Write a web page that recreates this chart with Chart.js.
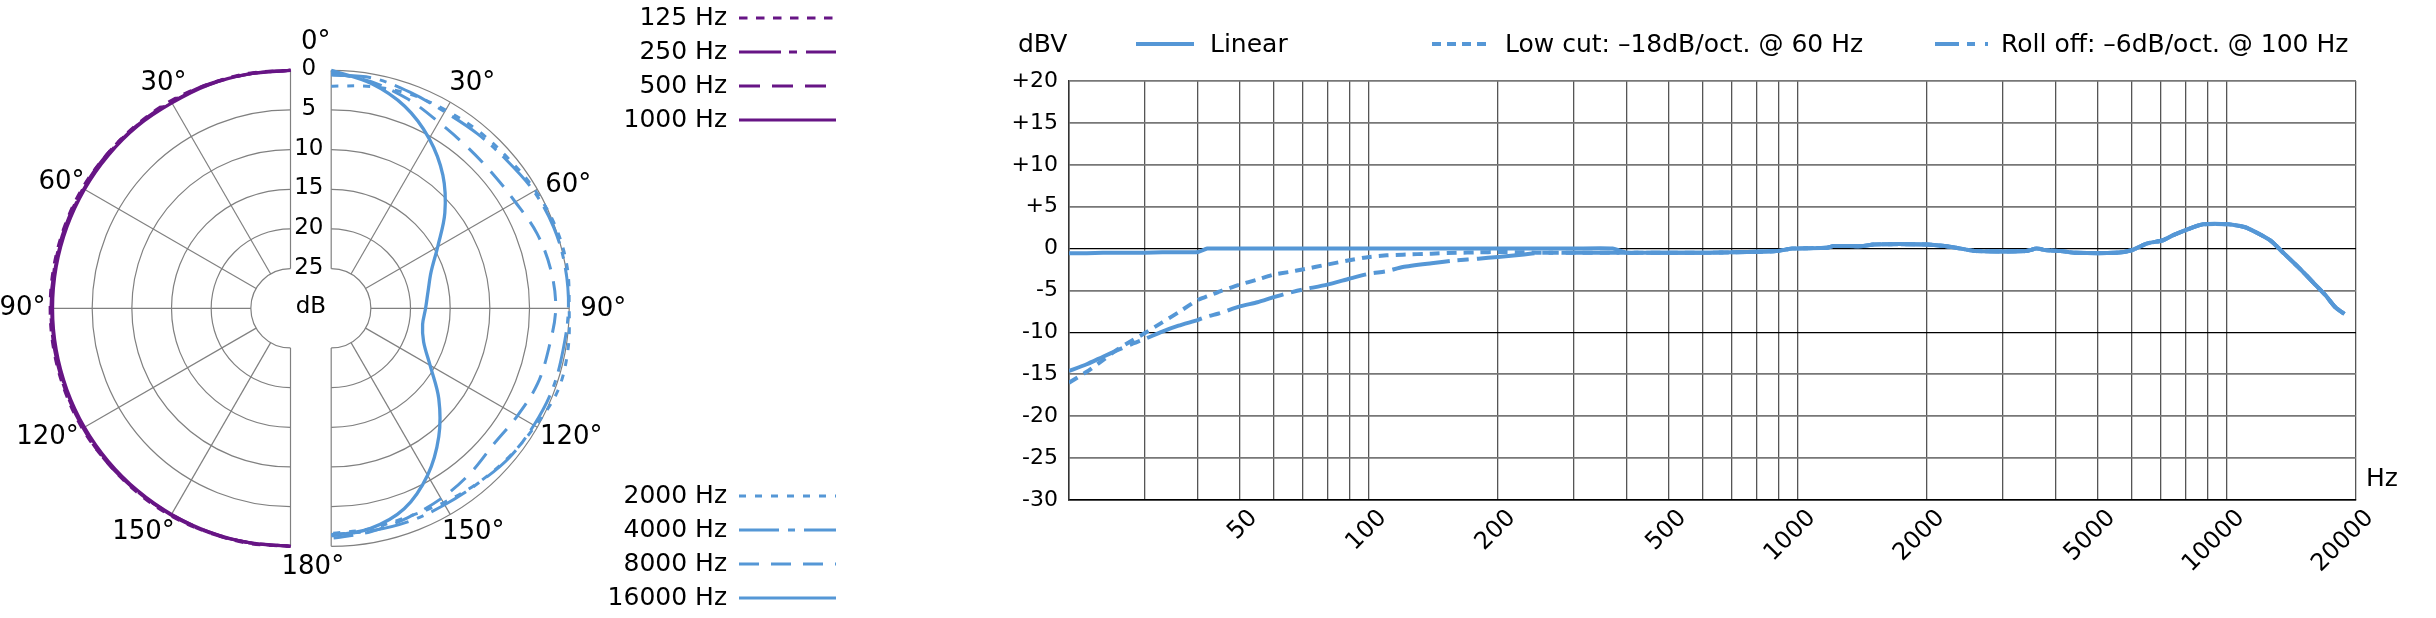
<!DOCTYPE html>
<html><head><meta charset="utf-8">
<script src="https://cdn.jsdelivr.net/npm/chart.js@4.4.1/dist/chart.umd.min.js"></script>
<style>
html,body{margin:0;padding:0;background:#fff;width:2436px;height:618px;overflow:hidden}
#polarWrap{position:absolute;left:0;top:0;width:900px;height:618px}
#freqWrap{position:absolute;left:940px;top:0;width:1496px;height:618px}
</style></head><body>
<div id="polarWrap"><canvas id="polar"></canvas></div>
<div id="freqWrap"><canvas id="freq"></canvas></div>
<script>
// ---------------- DATA ----------------
// Polar pattern: attenuation in dB at each angle (0..180 deg)
const ANGLES = [0,10,20,30,40,50,60,70,80,90,100,110,120,130,140,150,160,170,180];
const POLAR_125  = [0,-0.1,-0.1,-0.2,-0.2,-0.2,-0.3,-0.3,-0.3,-0.3,-0.3,-0.3,-0.3,-0.2,-0.2,-0.2,-0.1,-0.1,0];
const POLAR_250  = [0,0,-0.1,-0.1,-0.1,-0.2,-0.2,-0.2,-0.2,-0.2,-0.2,-0.2,-0.2,-0.2,-0.1,-0.1,-0.1,0,0];
const POLAR_500  = [0,0,0,0,-0.1,-0.1,-0.1,-0.1,-0.1,-0.1,-0.1,-0.1,-0.1,-0.1,-0.1,0,0,0,0];
const POLAR_1000 = [0,0,0,0.1,0,0,0,0,0,0,0,0,0,0,0,0,0,0,0];
const POLAR_2000 = [2.0,1.6,1.25,1.15,0.95,0.75,0.3,-0.1,-0.2,0,-0.3,-0.4,0.3,0.8,1.25,1.7,2.0,1.8,1.6];
const POLAR_4000 = [0.6,0.5,1.0,1.4,1.3,1.05,0.5,0.15,0.05,0.1,0.3,0.3,0.5,0.7,1.2,1.4,1.4,1.5,1.5];
const POLAR_8000 = [0.3,1.0,1.9,2.9,3.4,3.5,3.2,2.4,1.9,1.7,2.1,2.3,2.9,3.3,2.8,2.3,1.9,1.4,1.0];
const POLAR_16000 = [0.0,1.2,2.9,5.3,8.1,11.3,14.5,16.6,17.6,18.1,18.3,17.6,15.6,12.3,8.9,5.7,3.1,1.8,1.3];
const POLAR_RINGS = [0,5,10,15,20,25];
const POLAR_SPOKES = [0,30,60,90,120,150,180];
const POLAR_ANGLE_LABELS = [30,60,90,120,150];

// Frequency response
const FREQ = [20,22,24,26,28,30,33,36,40,42,45,50,55,60,65,70,80,90,100,110,120,140,160,180,200,230,250,300,370,400,430,560,700,890,970,1170,1210,1420,1500,2000,2200,2400,2600,3400,3600,3800,4100,4450,5500,6000,6500,7100,7500,8100,8800,10100,11100,12600,13600,14800,16000,17000,17900,18800];
const LINEAR = [-0.55,-0.55,-0.5,-0.5,-0.5,-0.5,-0.45,-0.45,-0.4,0,0,0,0,0,0,0,0,0,0,0,0,0,0,0,0,0,0,0,0,-0.5,-0.5,
  -0.5,-0.45,-0.3,0,0.1,0.3,0.3,0.5,0.5,0.3,0,-0.3,-0.3,0,-0.2,-0.3,-0.5,-0.5,-0.2,0.6,1.0,1.6,2.3,2.9,2.9,2.5,1.0,-0.6,-2.4,-4.2,-5.6,-7.0,-7.8];
const LOW_CUT = [-16.0,-14.7,-13.3,-12.0,-11.0,-10.1,-8.8,-7.6,-6.1,-5.7,-5.1,-4.3,-3.7,-3.1,-2.8,-2.5,-1.9,-1.4,-1.0,-0.8,-0.72,-0.6,-0.5,-0.45,-0.4,-0.45,-0.5,-0.5,-0.5,-0.5,-0.5,
  -0.5,-0.45,-0.3,0,0.1,0.3,0.3,0.5,0.5,0.3,0,-0.3,-0.3,0,-0.2,-0.3,-0.5,-0.5,-0.2,0.6,1.0,1.6,2.3,2.9,2.9,2.5,1.0,-0.6,-2.4,-4.2,-5.6,-7.0,-7.8];
const ROLL_OFF = [-14.6,-13.8,-12.9,-12.1,-11.4,-10.8,-9.9,-9.2,-8.5,-8.1,-7.7,-6.9,-6.4,-5.8,-5.3,-4.9,-4.3,-3.6,-3.0,-2.7,-2.2,-1.75,-1.4,-1.2,-1.0,-0.7,-0.5,-0.5,-0.5,-0.5,-0.5,
  -0.5,-0.45,-0.3,0,0.1,0.3,0.3,0.5,0.5,0.3,0,-0.3,-0.3,0,-0.2,-0.3,-0.5,-0.5,-0.2,0.6,1.0,1.6,2.3,2.9,2.9,2.5,1.0,-0.6,-2.4,-4.2,-5.6,-7.0,-7.8];
const X_GRID = [20,30,40,50,60,70,80,90,100,200,300,400,500,600,700,800,900,1000,2000,3000,4000,5000,6000,7000,8000,9000,10000,20000];
const X_LABELS = [50,100,200,500,1000,2000,5000,10000,20000];

// ---------------- STYLE ----------------
const PURPLE = '#671585';
const BLUE = '#5597d6';
const FONT = '"DejaVu Sans", "Liberation Sans", sans-serif';
Chart.defaults.color = '#000';
Chart.defaults.font.family = FONT;

// ---------------- POLAR ----------------
const PW = 900, PH = 618;
const UNIT = 7.933;          // px per dB of radius
const HALF_GAP = 2.565;      // half distance between the two half-plots, in dB units
const PCX = 310.85, PCY = 308.3;
// angle-label centre offsets (px) from each half's centre
const ANGLE_LABEL_POS_R = {30: [141, -226], 60: [237, -124], 90: [272, 0], 120: [240, 128], 150: [142, 223]};
const ANGLE_LABEL_POS_L = {30: [-127, -226], 60: [-229, -127], 90: [-268, -1], 120: [-243, 128], 150: [-147, 223]};

function polarPoints(vals, side) {
  return ANGLES.map((a, i) => {
    const r = 30 - vals[i], t = a * Math.PI / 180;
    return { x: side * (HALF_GAP + r * Math.sin(t)), y: r * Math.cos(t) };
  });
}
function pds(label, vals, side, color, dash, width) {
  return { label, data: polarPoints(vals, side), showLine: true, borderColor: color, backgroundColor: color,
    borderWidth: width || 3, borderDash: dash, pointRadius: 0, tension: 0.35, fill: false };
}
const polarSets = [
  pds('125 Hz', POLAR_125, -1, PURPLE, [8.5, 8.5]),
  pds('250 Hz', POLAR_250, -1, PURPLE, [42, 8, 8, 9]),
  pds('500 Hz', POLAR_500, -1, PURPLE, [21, 12]),
  pds('1000 Hz', POLAR_1000, -1, PURPLE, [], 3.3),
  pds('2000 Hz', POLAR_2000, 1, BLUE, [7, 9]),
  pds('4000 Hz', POLAR_4000, 1, BLUE, [40, 9, 7, 9]),
  pds('8000 Hz', POLAR_8000, 1, BLUE, [20, 12]),
  pds('16000 Hz', POLAR_16000, 1, BLUE, [], 3.3),
];

const polarPlugin = {
  id: 'polarPlugin',
  beforeDatasetsDraw(chart) {
    const { ctx, scales: { x, y } } = chart;
    const k = x.getPixelForValue(1) - x.getPixelForValue(0);
    ctx.save();
    ctx.strokeStyle = '#808080'; ctx.lineWidth = 1.2;
    [-1, 1].forEach(side => {
      const cx = x.getPixelForValue(side * HALF_GAP), cy = y.getPixelForValue(0);
      POLAR_RINGS.forEach(att => {
        const r = (30 - att) * k;
        ctx.beginPath();
        if (side > 0) ctx.arc(cx, cy, r, -Math.PI / 2, Math.PI / 2, false);
        else ctx.arc(cx, cy, r, Math.PI / 2, Math.PI * 1.5, false);
        ctx.stroke();
      });
      POLAR_SPOKES.forEach(a => {
        const t = a * Math.PI / 180;
        const p = r => [x.getPixelForValue(side * (HALF_GAP + r * Math.sin(t))), y.getPixelForValue(r * Math.cos(t))];
        const a0 = p(5), a1 = p(30);
        ctx.beginPath(); ctx.moveTo(a0[0], a0[1]); ctx.lineTo(a1[0], a1[1]); ctx.stroke();
      });
    });
    ctx.restore();
  },
  afterDatasetsDraw(chart) {
    const { ctx, scales: { x, y } } = chart;
    const k = x.getPixelForValue(1) - x.getPixelForValue(0);
    const mx = x.getPixelForValue(0), cy = y.getPixelForValue(0);
    ctx.save();
    ctx.fillStyle = '#000';
    ctx.textAlign = 'center'; ctx.textBaseline = 'middle';
    // angle labels
    ctx.font = '26px ' + FONT;
    [-1, 1].forEach(side => {
      const cx = x.getPixelForValue(side * HALF_GAP);
      const table = side > 0 ? ANGLE_LABEL_POS_R : ANGLE_LABEL_POS_L;
      POLAR_ANGLE_LABELS.forEach(a => {
        const o = table[a];
        ctx.fillText(a + '°', cx + o[0], cy + o[1] + 1);
      });
    });
    ctx.fillText('0°', mx + 5, cy - 266);
    ctx.fillText('180°', mx + 2, cy + 259);
    // ring labels
    ctx.font = '23px ' + FONT;
    POLAR_RINGS.forEach(att => {
      ctx.fillText(String(att), mx - 2, cy - (30 - att) * k - 1);
    });
    ctx.fillText('dB', mx, cy - 1);
    // legend
    ctx.font = '25px ' + FONT;
    ctx.textAlign = 'right';
    chart.data.datasets.forEach((ds, i) => {
      const yy = i < 4 ? 18 + i * 34 : 496 + (i - 4) * 34;
      ctx.fillStyle = '#000';
      ctx.fillText(ds.label, 727, yy);
      ctx.strokeStyle = ds.borderColor; ctx.lineWidth = 3;
      ctx.setLineDash(ds.borderDash || []);
      ctx.beginPath(); ctx.moveTo(739, yy); ctx.lineTo(836, yy); ctx.stroke();
      ctx.setLineDash([]);
    });
    ctx.restore();
  }
};

new Chart(document.getElementById('polar'), {
  type: 'scatter',
  data: { datasets: polarSets },
  options: {
    responsive: true, maintainAspectRatio: false, animation: false, devicePixelRatio: 1,
    layout: { padding: 0 },
    plugins: { legend: { display: false }, tooltip: { enabled: false } },
    scales: {
      x: { type: 'linear', display: false, min: -PCX / UNIT, max: (PW - PCX) / UNIT },
      y: { type: 'linear', display: false, min: -(PH - PCY) / UNIT, max: PCY / UNIT }
    }
  },
  plugins: [polarPlugin]
});

// ---------------- FREQUENCY RESPONSE ----------------
const OFF = 940; // canvas left in page px
function fds(label, vals, dash, legendDash) {
  return { label, data: FREQ.map((f, i) => ({ x: f, y: vals[i] })), borderColor: BLUE, backgroundColor: BLUE,
    borderWidth: 4, borderDash: dash, legendDash, pointRadius: 0, tension: 0.2, fill: false, showLine: true };
}
const freqPlugin = {
  id: 'freqPlugin',
  afterDraw(chart) {
    const { ctx, chartArea } = chart;
    ctx.save();
    ctx.fillStyle = '#000'; ctx.textBaseline = 'middle'; ctx.textAlign = 'left';
    ctx.font = '25px ' + FONT;
    ctx.fillText('dBV', 1018 - OFF, 45);
    ctx.fillText('Hz', chartArea.right + 10, chartArea.bottom - 21);
    const items = [
      { line: [1136, 1194], text: 1210 },
      { line: [1432, 1489], text: 1505 },
      { line: [1935, 1988], text: 2001 }
    ];
    chart.data.datasets.forEach((ds, i) => {
      const it = items[i];
      ctx.strokeStyle = ds.borderColor; ctx.lineWidth = 4;
      ctx.setLineDash(ds.legendDash || []);
      ctx.beginPath(); ctx.moveTo(it.line[0] - OFF, 44); ctx.lineTo(it.line[1] - OFF, 44); ctx.stroke();
      ctx.setLineDash([]);
      ctx.fillText(ds.label, it.text - OFF, 45);
    });
    ctx.restore();
  }
};

new Chart(document.getElementById('freq'), {
  type: 'scatter',
  data: {
    datasets: [
      fds('Linear', LINEAR, [], []),
      fds('Low cut: \u201318dB/oct. @ 60 Hz', LOW_CUT, [10, 7], [9, 6]),
      fds('Roll off: \u20136dB/oct. @ 100 Hz', ROLL_OFF, [58, 8, 11, 8], [24, 8, 8, 10])
    ]
  },
  options: {
    responsive: true, maintainAspectRatio: false, animation: false, devicePixelRatio: 1,
    layout: { padding: { top: 81, right: 80, left: 0, bottom: 0 } },
    plugins: { legend: { display: false }, tooltip: { enabled: false } },
    scales: {
      x: {
        type: 'logarithmic', min: 20, max: 20000,
        afterBuildTicks: s => { s.ticks = X_GRID.map(v => ({ value: v })); },
        afterFit: s => { s.height = 118; },
        ticks: {
          autoSkip: false, minRotation: 45, maxRotation: 45, padding: 4, labelOffset: 14,
          font: { size: 24, family: FONT }, color: '#000',
          callback: v => X_LABELS.includes(v) ? String(v) : ''
        },
        grid: { drawTicks: false, color: '#555', lineWidth: 1.3 },
        border: { display: true, color: '#000', width: 1.5 }
      },
      y: {
        type: 'linear', min: -30, max: 20,
        afterFit: s => { s.width = 129; },
        ticks: {
          stepSize: 5, padding: 11, font: { size: 22, family: FONT }, color: '#000',
          callback: v => v > 0 ? '+' + v : String(v)
        },
        grid: {
          drawTicks: false,
          color: c => (c.tick && (c.tick.value === 0 || c.tick.value === -10)) ? '#000' : '#777',
          lineWidth: c => (c.tick && (c.tick.value === 0 || c.tick.value === -10)) ? 1.2 : 1.7
        },
        border: { display: true, color: '#333', width: 1.5 }
      }
    }
  },
  plugins: [freqPlugin]
});
</script>
</body></html>
